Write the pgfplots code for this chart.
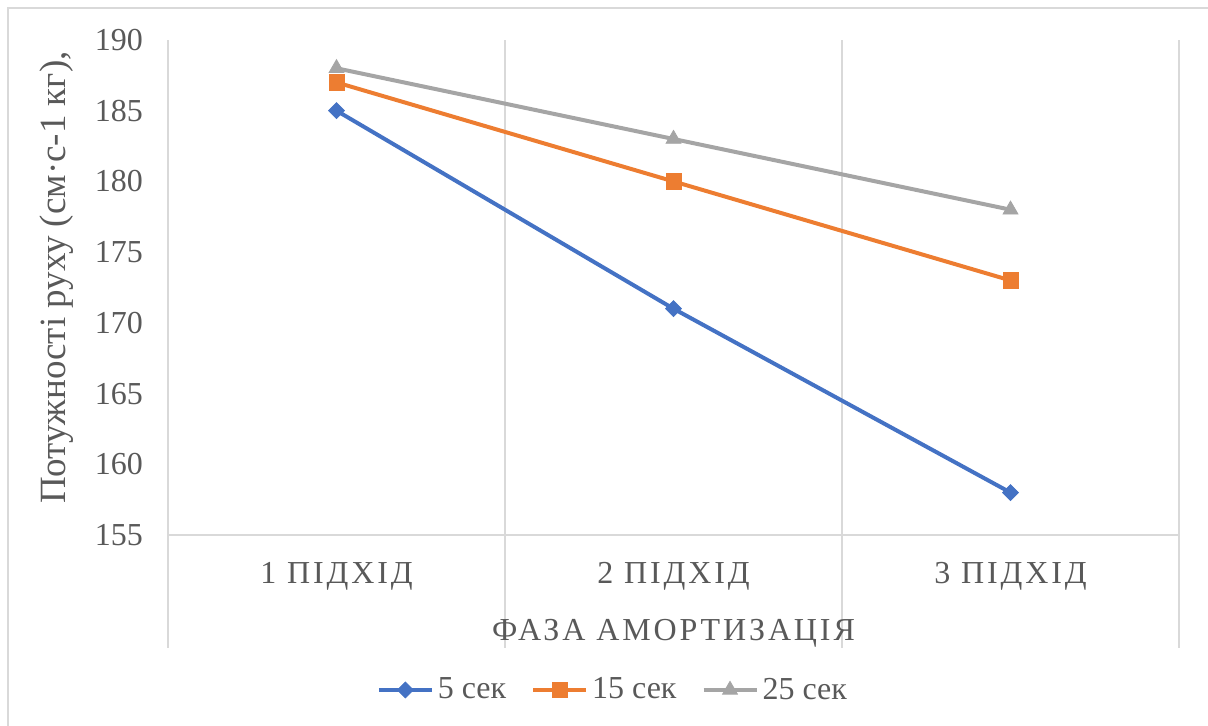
\documentclass[border=0pt]{standalone}
\usepackage{fontspec}
\setmainfont{Liberation Serif}
\newfontfamily\tnr{Liberation Serif}
\newfontfamily\tnrls[LetterSpace=9]{Liberation Serif}
\usepackage{pgfplots}
\pgfplotsset{compat=1.18}
\definecolor{s1}{HTML}{4472C4}
\definecolor{s2}{HTML}{ED7D31}
\definecolor{s3}{HTML}{A5A5A5}
\definecolor{txt}{HTML}{595959}
\definecolor{gridc}{HTML}{D9D9D9}
\begin{document}
\begin{tikzpicture}
\useasboundingbox (0,0) rectangle (604pt,363pt);
\draw[gridc, line width=0.75pt] (4pt,0pt) -- (4pt,359pt) -- (604pt,359pt);
\begin{axis}[
  at={(84pt,95.5pt)}, anchor=south west,
  scale only axis, width=505.5pt, height=247.5pt,
  xmin=-0.5, xmax=2.5, ymin=155, ymax=190,
  axis x line*=bottom, axis y line*=left,
  x axis line style={gridc, line width=0.75pt, -},
  y axis line style={draw=none},
  xtick={-0.5,0.5,1.5,2.5}, xticklabels={},
  xtick align=outside, ytick align=inside,
  major tick length=56.5pt,
  xtick style={gridc, line width=0.75pt},
  ytick style={draw=none},
  xmajorgrids, major grid style={gridc, line width=0.75pt},
  extra x ticks={0,1,2},
  extra x tick labels={1 ПІДХІД,2 ПІДХІД,3 ПІДХІД},
  extra x tick style={grid=none, major tick length=0pt, xtick align=inside, tick style={draw=none},
    tick label style={font=\tnrls\fontsize{16}{19}\selectfont, yshift=-10pt}},
  ytick={155,160,...,190},
  tick label style={text=txt},
  yticklabel style={font=\tnr\fontsize{16}{19}\selectfont, xshift=-9pt},
  /pgf/number format/assume math mode=true,
  ylabel={Потужності руху (см·с-1 кг),},
  ylabel style={at={(axis description cs:-0.11,0.52)}, anchor=center, text=txt, font=\tnr\fontsize{18.5}{22}\selectfont},
  xlabel={ФАЗА АМОРТИЗАЦІЯ},
  xlabel style={at={(axis description cs:0.5,-0.199)}, anchor=center, text=txt, font=\tnrls\fontsize{16}{19}\selectfont},
  legend columns=3,
  legend style={draw=none, fill=none, at={(axis description cs:0.441,-0.313)}, anchor=center,
    font=\tnr\fontsize{16}{19}\selectfont, text=txt,
    /tikz/every even column/.append style={column sep=10.5pt}},
  legend image code/.code={\draw[mark repeat=2,mark phase=2,#1] plot coordinates {(0pt,0pt)(13.25pt,0pt)(26.5pt,0pt)};},
  clip=false,
]
\addplot[s1, line width=2pt, mark=square*, mark size=2.8pt, mark options={solid, rotate=45, line width=0.4pt}] coordinates {(0,185) (1,171) (2,158)};
\addlegendentry{5 сек}
\addplot[s2, line width=2pt, mark=square*, mark size=3.8pt, mark options={solid, line width=0.4pt}] coordinates {(0,187) (1,180) (2,173)};
\addlegendentry{15 сек}
\addplot[s3, line width=2pt, mark=triangle*, mark size=4.3pt, mark options={solid, line width=0.4pt}] coordinates {(0,188) (1,183) (2,178)};
\addlegendentry{25 сек}
\end{axis}
\end{tikzpicture}
\end{document}
